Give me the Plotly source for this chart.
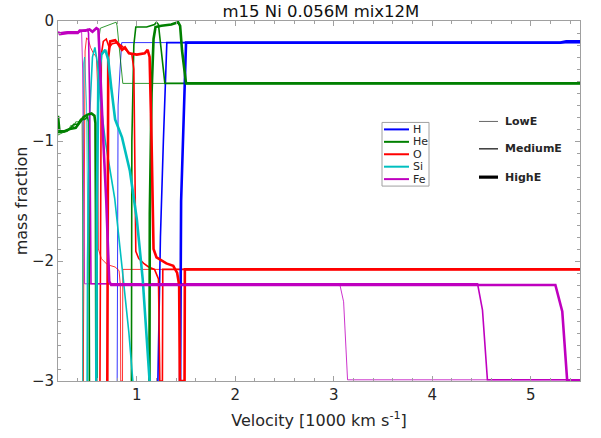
import plotly.graph_objects as go

# ---------------- data: log10 mass fraction vs velocity [1000 km/s] ----------------
# H
H_low_v  = [0.80, 0.805, 0.81, 0.83, 0.847, 1.5, 5.5]
H_low_y  = [-3.2, -1.5, -0.70, -0.40, -0.18, -0.18, -0.18]
H_med_v  = [1.21, 1.214, 1.24, 1.27, 1.29, 1.305, 5.5]
H_med_y  = [-3.2, -3.0, -1.8, -1.0, -0.45, -0.18, -0.18]
H_high_v = [1.435, 1.44, 1.45, 1.47, 1.49, 1.50, 5.30, 5.36, 5.5]
H_high_y = [-3.2, -3.0, -1.5, -0.90, -0.40, -0.18, -0.18, -0.17, -0.17]

# He
He_low_v  = [0.20, 0.25, 0.30, 0.33, 0.36, 0.38, 0.41, 0.43, 0.445, 0.45, 0.455,
             0.598, 0.603, 0.615, 0.63, 0.70, 0.76, 0.79, 0.80, 0.83, 0.858, 5.5]
He_low_y  = [-0.95, -0.93, -0.92, -0.87, -0.88, -0.84, -0.84, -0.82, -0.84, -1.5, -3.2,
             -3.2, -1.0, -0.15, -0.06, -0.04, -0.02, -0.01, -0.04, -0.30, -0.52, -0.52]
He_med_v  = [0.20, 0.26, 0.32, 0.36, 0.40, 0.43, 0.47, 0.50, 0.51, 0.515, 0.52,
             0.945, 0.95, 0.97, 0.99, 1.10, 1.18, 1.20, 1.22, 1.25, 1.285, 5.5]
He_med_y  = [-0.93, -0.92, -0.90, -0.86, -0.86, -0.82, -0.82, -0.80, -0.84, -1.5, -3.2,
             -3.2, -1.0, -0.20, -0.05, -0.05, -0.03, -0.01, -0.03, -0.25, -0.52, -0.52]
He_high_v = [0.20, 0.215, 0.26, 0.32, 0.38, 0.42, 0.46, 0.50, 0.54, 0.57, 0.58, 0.585, 0.59,
             1.128, 1.132, 1.15, 1.17, 1.19, 1.25, 1.35, 1.42, 1.44, 1.46, 1.50, 5.5]
He_high_y = [-0.79, -0.92, -0.92, -0.90, -0.89, -0.84, -0.80, -0.78, -0.77, -0.79, -0.85, -1.6, -3.2,
             -3.2, -1.6, -0.60, -0.15, -0.05, -0.04, -0.03, -0.01, -0.04, -0.25, -0.52, -0.52]

# O
O_low_v  = [0.455, 0.465, 0.475, 0.49, 0.51, 0.53, 0.56, 0.59, 0.60, 0.605, 0.61, 0.64, 0.70,
            0.78, 0.82, 0.833, 0.837, 0.855, 0.858, 5.5]
O_low_y  = [-3.2, -1.0, -0.25, -0.14, -0.16, -0.22, -0.27, -0.30, -0.50, -1.2, -1.90, -1.98, -2.03,
            -2.05, -2.08, -2.2, -3.0, -3.0, -2.07, -2.07]
O_med_v  = [0.625, 0.634, 0.64, 0.66, 0.69, 0.72, 0.75, 0.80, 0.85, 0.90, 0.95, 0.97,
            0.98, 0.99, 1.02, 1.07, 1.12, 1.18, 1.22, 1.234, 1.26, 1.264, 5.5]
O_med_y  = [-3.2, -1.0, -0.28, -0.17, -0.15, -0.22, -0.19, -0.18, -0.21, -0.25, -0.28, -0.40,
            -1.2, -1.92, -1.98, -2.02, -2.05, -2.07, -2.15, -3.0, -3.0, -2.07, -2.07]
O_high_v = [0.700, 0.705, 0.71, 0.73, 0.78, 0.80, 0.85, 0.88, 0.92, 1.00, 1.08, 1.11, 1.13,
            1.15, 1.17, 1.20, 1.30, 1.37, 1.41, 1.43, 1.437, 1.485, 1.488, 5.5]
O_high_y = [-3.2, -1.0, -0.30, -0.17, -0.16, -0.18, -0.24, -0.22, -0.27, -0.28, -0.27, -0.24, -0.30,
            -1.0, -1.90, -1.97, -2.02, -2.04, -2.10, -2.20, -3.0, -3.0, -2.07, -2.07]

# Si
Si_low_v  = [0.448, 0.452, 0.46, 0.47, 0.48, 0.49, 0.50, 0.505]
Si_low_y  = [-3.2, -1.0, -0.35, -0.30, -0.45, -0.70, -1.5, -3.2]
Si_med_v  = [0.495, 0.50, 0.52, 0.55, 0.575, 0.60, 0.63, 0.68, 0.73, 0.776, 0.85, 0.92, 0.96]
Si_med_y  = [-3.2, -2.0, -0.80, -0.30, -0.22, -0.35, -0.65, -1.0, -1.25, -1.48, -2.05, -2.60, -3.0]
Si_high_v = [0.588, 0.595, 0.61, 0.64, 0.68, 0.71, 0.74, 0.78, 0.85, 0.93, 1.00, 1.06, 1.13]
Si_high_y = [-3.2, -1.5, -0.50, -0.28, -0.24, -0.32, -0.55, -0.82, -0.97, -1.25, -1.65, -2.15, -3.0]

# Fe
Fe_low_v  = [0.20, 0.30, 0.40, 0.44, 0.45, 0.46, 0.47, 3.06, 3.10, 3.14, 5.5]
Fe_low_y  = [-0.10, -0.09, -0.10, -0.09, -0.40, -1.5, -2.19, -2.19, -2.34, -2.99, -2.99]
Fe_med_v  = [0.20, 0.30, 0.40, 0.46, 0.50, 0.51, 0.52, 0.53, 0.535, 4.46, 4.51, 4.56, 5.5]
Fe_med_y  = [-0.10, -0.09, -0.09, -0.08, -0.07, -0.10, -0.60, -1.60, -2.19, -2.19, -2.41, -2.99, -2.99]
Fe_high_v = [0.20, 0.22, 0.30, 0.40, 0.42, 0.48, 0.52, 0.55, 0.59, 0.61, 0.62, 0.64, 0.66,
             0.69, 0.71, 0.72, 0.74, 5.25, 5.32, 5.37, 5.5]
Fe_high_y = [-0.09, -0.11, -0.10, -0.10, -0.08, -0.08, -0.07, -0.09, -0.06, -0.07, -0.25, -0.70, -1.0,
             -1.5, -2.0, -2.17, -2.20, -2.20, -2.42, -3.0, -3.0]

elements = ["H", "He", "O", "Si", "Fe"]
colors = {"H": "#0000ff", "He": "#008000", "O": "#ff0000", "Si": "#00bfbf", "Fe": "#bf00bf"}
series = {
    "H": [(H_low_v, H_low_y), (H_med_v, H_med_y), (H_high_v, H_high_y)],
    "He": [(He_low_v, He_low_y), (He_med_v, He_med_y), (He_high_v, He_high_y)],
    "O": [(O_low_v, O_low_y), (O_med_v, O_med_y), (O_high_v, O_high_y)],
    "Si": [(Si_low_v, Si_low_y), (Si_med_v, Si_med_y), (Si_high_v, Si_high_y)],
    "Fe": [(Fe_low_v, Fe_low_y), (Fe_med_v, Fe_med_y), (Fe_high_v, Fe_high_y)],
}
energy_names = ["LowE", "MediumE", "HighE"]
energy_widths = [0.8, 1.6, 2.6]
energy_legend_colors = ["#666666", "#444444", "#000000"]
energy_legend_widths = [1, 1.6, 3.2]

fig = go.Figure()
for k in range(3):
    for el in elements:
        v, y = series[el][k]
        fig.add_trace(go.Scatter(x=v, y=y, mode="lines", showlegend=False,
                                 line=dict(color=colors[el], width=energy_widths[k]),
                                 hoverinfo="skip"))

font_family = "DejaVu Sans"

# ---- legends drawn in paper coordinates (plot area: 522 x 362 px) ----
PW, PH = 522.0, 362.0
def px2paper(px, py):
    return (px - 58) / PW, (383 - py) / PH

shapes = []
annotations = []
# element legend box
bx0, by0 = px2paper(382, 187)
bx1, by1 = px2paper(429, 123)
shapes.append(dict(type="rect", xref="paper", yref="paper", x0=bx0, y0=by0, x1=bx1, y1=by1,
                   line=dict(color="#a0a0a0", width=1), fillcolor="white", layer="above"))
for i, el in enumerate(elements):
    yy = 130 + i * 12.5
    x0, y0 = px2paper(384, yy)
    x1, _ = px2paper(409, yy)
    shapes.append(dict(type="line", xref="paper", yref="paper", x0=x0, y0=y0, x1=x1, y1=y0,
                       line=dict(color=colors[el], width=2), layer="above"))
    tx, _ = px2paper(411, yy)
    annotations.append(dict(text=el, xref="paper", yref="paper", x=tx, y=y0, xanchor="left",
                            yanchor="middle", showarrow=False,
                            font=dict(size=11, color="#262626", family=font_family)))
# energy legend
for k, name in enumerate(energy_names):
    yy = [122, 149.5, 178][k]
    x0, y0 = px2paper(479, yy)
    x1, _ = px2paper(498, yy)
    shapes.append(dict(type="line", xref="paper", yref="paper", x0=x0, y0=y0, x1=x1, y1=y0,
                       line=dict(color=energy_legend_colors[k], width=energy_legend_widths[k]),
                       layer="above"))
    tx, _ = px2paper(503, yy)
    annotations.append(dict(text="<b>" + name + "</b>", xref="paper", yref="paper", x=tx, y=y0,
                            xanchor="left", yanchor="middle", showarrow=False,
                            font=dict(size=11, color="#262626", family=font_family)))

axis_common = dict(showline=True, linecolor="#a0a0a0", linewidth=1, mirror="ticks",
                   ticks="inside", ticklen=5, tickcolor="#a0a0a0", showgrid=False,
                   zeroline=False, tickfont=dict(size=15, color="#262626", family=font_family))

fig.update_layout(
    width=601, height=438,
    margin=dict(l=58, r=21, t=21, b=55),
    paper_bgcolor="white", plot_bgcolor="white",
    showlegend=False,
    font=dict(family=font_family, color="#262626"),
    title=dict(text="m15 Ni 0.056M mix12M", x=0.534, xanchor="center", y=0.975, yanchor="middle",
               yref="container", font=dict(size=16.5, color="#111111", family=font_family)),
    xaxis=dict(range=[0.2, 5.5], tickvals=[1, 2, 3, 4, 5],
               minor=dict(dtick=0.2, tick0=0, ticks="inside", ticklen=3, tickcolor="#a0a0a0"),
               title=dict(text="Velocity [1000 km s<sup>-1</sup>]", standoff=11,
                          font=dict(size=16, color="#262626", family=font_family)),
               **axis_common),
    yaxis=dict(range=[-3, 0], tickvals=[0, -1, -2, -3],
               minor=dict(dtick=0.1, tick0=0, ticks="inside", ticklen=3, tickcolor="#a0a0a0"),
               title=dict(text="mass fraction", standoff=0,
                          font=dict(size=16, color="#262626", family=font_family)),
               **axis_common),
    shapes=shapes,
    annotations=annotations,
)

fig.write_html("out.html", config={"displayModeBar": False},
               post_script="document.body.style.margin='0';")
